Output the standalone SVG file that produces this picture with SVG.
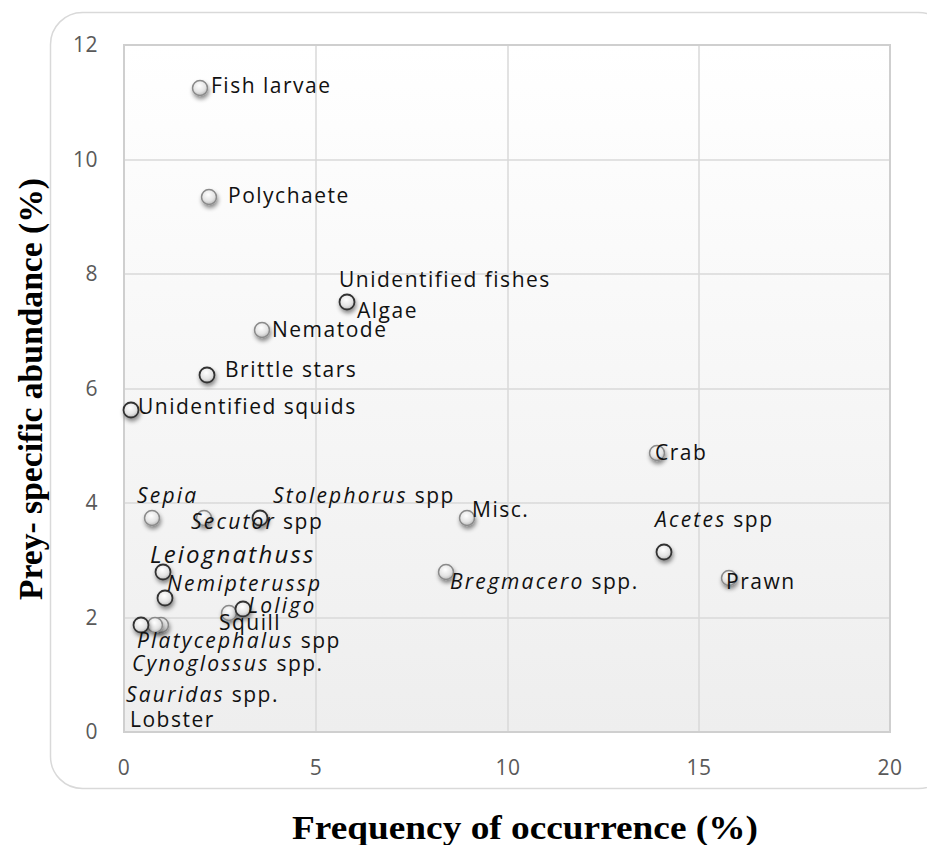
<svg xmlns="http://www.w3.org/2000/svg" width="927" height="845" viewBox="0 0 927 845">
<defs>
<linearGradient id="plotbg" x1="0" y1="0" x2="0" y2="1">
<stop offset="0" stop-color="#ffffff"/>
<stop offset="1" stop-color="#eeeeee"/>
</linearGradient>
<radialGradient id="ball" cx="0.45" cy="0.35" r="0.7">
<stop offset="0" stop-color="#ffffff"/>
<stop offset="0.6" stop-color="#e4e4e4"/>
<stop offset="1" stop-color="#b0b0b0"/>
</radialGradient>
<filter id="sh" x="-60%" y="-60%" width="220%" height="220%">
<feDropShadow dx="1" dy="3" stdDeviation="2" flood-color="#000" flood-opacity="0.45"/>
</filter>
</defs>
<style>
.tick{font-family:"Open Sans","Liberation Sans",sans-serif;font-size:21px;fill:#595959;letter-spacing:0.5px}
.lbl{font-family:"Open Sans","Liberation Sans",sans-serif;font-size:21px;fill:#111;letter-spacing:1.5px}
.it{font-style:italic;letter-spacing:2.2px}
.title{font-family:"Liberation Serif","Times New Roman",serif;font-weight:bold;font-size:33px;fill:#000}
.grid{stroke:#d9d9d9;stroke-width:1.5;fill:none}
.pt{fill:url(#ball);stroke:#8a8a8a;stroke-width:1.5;filter:url(#sh)}
.pd{fill:url(#ball);stroke:#333;stroke-width:1.8;filter:url(#sh)}
</style>
<rect x="50.5" y="12.5" width="900" height="776" rx="32" fill="#ffffff" stroke="#d9d9d9" stroke-width="1.5"/>
<g id="plot">
<rect x="124" y="45" width="766" height="687" fill="url(#plotbg)"/>
<path class="grid" d="M316 45V732M508 45V732M699 45V732M124 160H890M124 274H890M124 389H890M124 503H890M124 618H890"/>
<rect x="124" y="45" width="766" height="687" fill="none" stroke="#cfcfcf" stroke-width="2"/>
</g>
<g id="yticks" text-anchor="end">
<text class="tick" x="98" y="52">12</text>
<text class="tick" x="98" y="167">10</text>
<text class="tick" x="98" y="281">8</text>
<text class="tick" x="98" y="396">6</text>
<text class="tick" x="98" y="510">4</text>
<text class="tick" x="98" y="625">2</text>
<text class="tick" x="98" y="739">0</text>
</g>
<g id="xticks" text-anchor="middle">
<text class="tick" x="124" y="775">0</text>
<text class="tick" x="316" y="775">5</text>
<text class="tick" x="508" y="775">10</text>
<text class="tick" x="699" y="775">15</text>
<text class="tick" x="890" y="775">20</text>
</g>
<text class="title" x="292" y="839" textLength="466" lengthAdjust="spacingAndGlyphs">Frequency of occurrence (%)</text>
<text class="title" transform="translate(42 600) rotate(-90)" textLength="422" lengthAdjust="spacingAndGlyphs" style="font-size:34px">Prey- specific abundance (%)</text>
<g id="points">
<circle class="pt" cx="200" cy="88" r="7.5"/>
<circle class="pt" cx="209" cy="197" r="7.5" stroke="#bdbdbd"/>
<circle class="pd" cx="347" cy="302" r="7.5"/>
<circle class="pt" cx="262" cy="330" r="7.5"/>
<circle class="pd" cx="207" cy="375" r="7.5" stroke="#666"/>
<circle class="pd" cx="131" cy="410" r="7.5"/>
<circle class="pt" cx="657" cy="453" r="7.5" stroke="#cfcfcf"/>
<circle class="pt" cx="152" cy="518" r="7.5" stroke="#777"/>
<circle class="pt" cx="204" cy="518" r="7.5"/>
<circle class="pd" cx="260" cy="518" r="7.5" stroke="#666"/>
<circle class="pt" cx="467" cy="518" r="7.5"/>
<circle class="pd" cx="664" cy="552" r="7.5"/>
<circle class="pd" cx="163" cy="572" r="7.5" stroke="#666"/>
<circle class="pd" cx="165" cy="598" r="7.5"/>
<circle class="pt" cx="446" cy="572" r="7.5"/>
<circle class="pt" cx="729" cy="578" r="7.5"/>
<circle class="pt" cx="229" cy="613" r="7.5" stroke="#c8c8c8"/>
<circle class="pd" cx="243" cy="609" r="7.5" stroke="#666"/>
<circle class="pt" cx="161" cy="625" r="7.5" stroke="#d0d0d0"/>
<circle class="pt" cx="155" cy="625" r="7.5"/>
<circle class="pd" cx="141" cy="625" r="7.5"/>
</g>
<g id="labels">
<text class="lbl" x="211" y="93">Fish larvae</text>
<text class="lbl" x="228" y="203">Polychaete</text>
<text class="lbl" x="339" y="287">Unidentified fishes</text>
<text class="lbl" x="357" y="318">Algae</text>
<text class="lbl" x="272" y="337">Nematode</text>
<text class="lbl" x="225" y="377">Brittle stars</text>
<text class="lbl" x="138" y="414">Unidentified squids</text>
<text class="lbl" x="655" y="460">Crab</text>
<text class="lbl it" x="137" y="503">Sepia</text>
<text class="lbl" x="191" y="529"><tspan class="it">Secutor</tspan> spp</text>
<text class="lbl" x="273" y="503"><tspan class="it">Stolephorus</tspan> spp</text>
<text class="lbl" x="472" y="517">Misc.</text>
<text class="lbl" x="655" y="527"><tspan class="it">Acetes</tspan> spp</text>
<text class="lbl it" x="150" y="563" style="font-size:24px">Leiognathuss</text>
<text class="lbl it" x="167" y="591">Nemipterussp</text>
<text class="lbl" x="450" y="589"><tspan class="it">Bregmacero</tspan> spp.</text>
<text class="lbl" x="726" y="589">Prawn</text>
<text class="lbl it" x="248" y="613">Loligo</text>
<text class="lbl" x="219" y="630">Squill</text>
<text class="lbl" x="137" y="648"><tspan class="it">Platycephalus</tspan> spp</text>
<text class="lbl" x="132" y="671"><tspan class="it">Cynoglossus</tspan> spp.</text>
<text class="lbl" x="126" y="702"><tspan class="it">Sauridas</tspan> spp.</text>
<text class="lbl" x="130" y="727">Lobster</text>
</g>
</svg>
